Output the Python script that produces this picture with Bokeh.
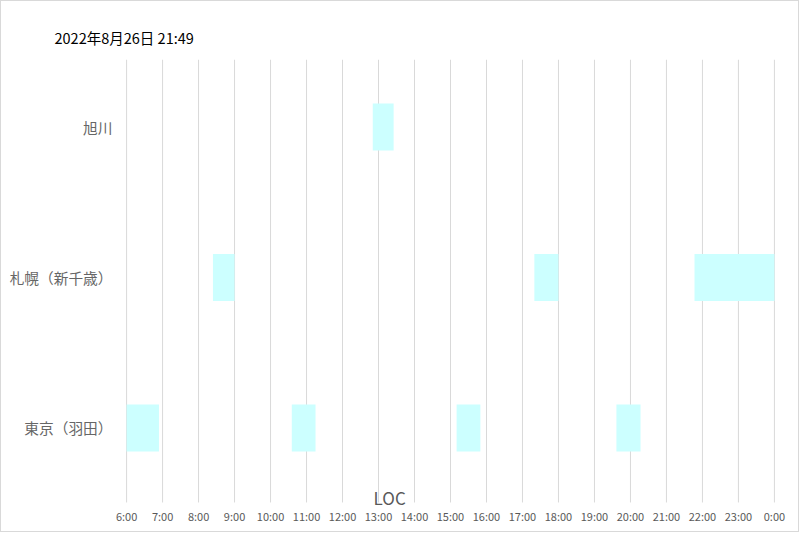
from bokeh.plotting import figure
from bokeh.models import FixedTicker, Range1d, Label, ColumnDataSource
from bokeh.embed import file_html
from bokeh.resources import INLINE

# Data
stations = ["東京（羽田）", "札幌（新千歳）", "旭川"]
bar_station = [2, 1, 1, 1, 0, 0, 0, 0]
bar_start = [12.84, 8.40, 17.33, 21.78, 6.00, 10.59, 15.17, 19.61]
bar_end = [13.42, 9.00, 18.00, 24.00, 6.90, 11.25, 15.83, 20.28]
hour_ticks = list(range(6, 25))
hour_labels = [f"{h % 24}:00" for h in hour_ticks]
title_text = "2022年8月26日 21:49"
axis_title = "LOC"

FONT = "Noto Sans CJK JP"
GRAY = "#595959"

Y_LO, Y_HI = -0.495, 2.449

p = figure(width=799, height=532, output_backend="svg", toolbar_location=None,
           x_range=Range1d(5.97, 24.03), y_range=Range1d(-0.535, Y_HI),
           min_border_left=124, min_border_right=25, min_border_top=58, min_border_bottom=25)
p.outline_line_color = None
p.background_fill_color = "white"
p.border_fill_color = "white"
p.styles = {"border": "1px solid #d9d9d9"}

# vertical gridlines
p.segment(x0=hour_ticks, x1=hour_ticks, y0=[Y_LO] * len(hour_ticks), y1=[Y_HI] * len(hour_ticks),
          line_color="#d9d9d9", line_width=1)

src = ColumnDataSource(dict(left=bar_start, right=bar_end,
                            bottom=[s - 0.156 for s in bar_station],
                            top=[s + 0.156 for s in bar_station]))
p.quad(left="left", right="right", bottom="bottom", top="top", source=src,
       fill_color="#CCFFFF", line_color=None)

# x axis
p.xaxis.ticker = FixedTicker(ticks=hour_ticks)
p.xaxis.major_label_overrides = {h: l for h, l in zip(hour_ticks, hour_labels)}
p.xaxis.axis_line_color = None
p.xaxis.major_tick_line_color = None
p.xaxis.minor_tick_line_color = None
p.xaxis.major_tick_out = 0
p.xaxis.major_label_standoff = -1
p.xaxis.major_label_text_font = FONT
p.xaxis.major_label_text_font_size = "11px"
p.xaxis.major_label_text_color = GRAY

# y axis
p.yaxis.ticker = FixedTicker(ticks=[0, 1, 2])
p.yaxis.major_label_overrides = {i: s for i, s in enumerate(stations)}
p.yaxis.axis_line_color = None
p.yaxis.major_tick_line_color = None
p.yaxis.minor_tick_line_color = None
p.yaxis.major_tick_out = 0
p.yaxis.major_label_standoff = 13
p.yaxis.major_label_text_font = FONT
p.yaxis.major_label_text_font_size = "14.7px"
p.yaxis.major_label_text_color = "#666666"

p.xgrid.grid_line_color = None
p.ygrid.grid_line_color = None

p.title.text = title_text
p.title.text_font = FONT
p.title.text_font_size = "14.5px"
p.title.text_font_style = "normal"
p.title.text_color = "black"
p.title.align = "left"
p.title.offset = -71
p.title.standoff = 24

p.add_layout(Label(x=13.31, y=-0.462, text=axis_title, text_font=FONT,
                   text_font_size="17px", text_color=GRAY,
                   text_align="center", text_baseline="middle"))

open("out.html", "w").write(file_html(p, INLINE))
